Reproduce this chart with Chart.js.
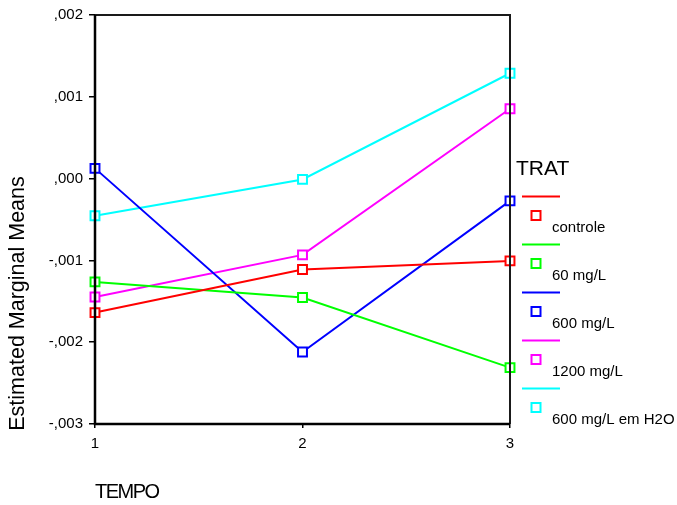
<!DOCTYPE html>
<html>
<head>
<meta charset="utf-8">
<script src="https://cdn.jsdelivr.net/npm/chart.js@4/dist/chart.umd.min.js"></script>
<style>
  html, body { margin: 0; padding: 0; background: #ffffff; }
  #wrap { width: 677px; height: 505px; }
</style>
</head>
<body>
<div id="wrap"><canvas id="chart" width="677" height="505"></canvas></div>
<script>
// Estimated marginal means by TEMPO for each TRAT group
const tempo = ['1', '2', '3'];
const treatments = ['controle', '60 mg/L', '600 mg/L', '1200 mg/L', '600 mg/L em H2O'];

const controle = [-0.001638, -0.001111, -0.001006];
const mg60 = [-0.001263, -0.001454, -0.002311];
const mg600 = [0.000125, -0.002120, -0.000272];
const mg1200 = [-0.001447, -0.000933, 0.000854];
const mg600H2O = [-0.000455, -0.000010, 0.001288];

const yTickValues = [0.002, 0.001, 0, -0.001, -0.002, -0.003];
const yTickLabels = [',002', ',001', ',000', '-,001', '-,002', '-,003'];

const seriesValues = [controle, mg60, mg600, mg1200, mg600H2O];
const seriesColors = ['#ff0000', '#00ff00', '#0000ff', '#ff00ff', '#00ffff'];

const FONT = "'Liberation Sans', Arial, sans-serif";

const datasets = treatments.map((name, i) => ({
  label: name,
  data: seriesValues[i],
  borderColor: seriesColors[i],
  borderWidth: 2,
  pointStyle: 'rect',
  pointRadius: 6.3,
  pointBorderWidth: 2,
  pointBorderColor: seriesColors[i],
  pointBackgroundColor: '#ffffff',
  tension: 0,
  clip: false
}));

// Frame round the plot, axis titles and the TRAT key
const decorations = {
  id: 'decorations',
  afterDatasetsDraw(chart) {
    const ctx = chart.ctx;
    const a = chart.chartArea;
    ctx.save();
    ctx.strokeStyle = '#1a1a1a';
    ctx.lineWidth = 2;
    ctx.beginPath();
    ctx.moveTo(a.left, a.top);
    ctx.lineTo(a.right, a.top);
    ctx.lineTo(a.right, a.bottom);
    ctx.stroke();
    ctx.strokeStyle = '#000000';
    ctx.lineWidth = 2.5;
    ctx.beginPath();
    ctx.moveTo(a.left, a.top);
    ctx.lineTo(a.left, a.bottom);
    ctx.lineTo(a.right, a.bottom);
    ctx.stroke();
    ctx.restore();
  },
  afterDraw(chart) {
    const ctx = chart.ctx;
    const a = chart.chartArea;
    ctx.save();
    ctx.fillStyle = '#000000';

    // y axis title
    ctx.save();
    ctx.translate(18.5, 303.5);
    ctx.rotate(-Math.PI / 2);
    ctx.font = '21.5px ' + FONT;
    ctx.textAlign = 'center';
    ctx.textBaseline = 'middle';
    ctx.fillText('Estimated Marginal Means', 0, 0);
    ctx.restore();

    // x axis title
    ctx.font = '20px ' + FONT;
    ctx.textAlign = 'left';
    ctx.textBaseline = 'middle';
    if ('letterSpacing' in ctx) ctx.letterSpacing = '-1.5px';
    ctx.fillText('TEMPO', a.left, 492);
    if ('letterSpacing' in ctx) ctx.letterSpacing = '0px';

    // key
    const kx = a.right + 6;
    ctx.font = '21px ' + FONT;
    ctx.fillText('TRAT', kx, 169);
    ctx.font = '15px ' + FONT;
    ctx.textBaseline = 'alphabetic';
    treatments.forEach((name, i) => {
      const y0 = 196.5 + i * 48;
      ctx.strokeStyle = seriesColors[i];
      ctx.lineWidth = 2;
      ctx.beginPath();
      ctx.moveTo(kx + 6, y0);
      ctx.lineTo(kx + 44, y0);
      ctx.stroke();
      const my = y0 + 19;
      ctx.strokeRect(kx + 15.5, my - 4.5, 9, 9);
      ctx.fillStyle = '#000000';
      ctx.fillText(name, kx + 36, y0 + 35.5);
    });
    ctx.restore();
  }
};

new Chart(document.getElementById('chart'), {
  type: 'line',
  data: { labels: tempo, datasets },
  options: {
    responsive: false,
    animation: false,
    events: [],
    layout: { padding: { top: 15, right: 167, left: 0, bottom: 0 } },
    plugins: {
      legend: { display: false },
      tooltip: { enabled: false }
    },
    scales: {
      x: {
        offset: false,
        border: { display: false },
        grid: {
          drawOnChartArea: false,
          drawTicks: true,
          tickLength: 4,
          color: '#000000',
          lineWidth: 1.5
        },
        ticks: {
          color: '#000000',
          font: { family: FONT, size: 15 },
          padding: 7,
          maxRotation: 0
        },
        afterFit(scale) { scale.height = 81; }
      },
      y: {
        min: -0.003,
        max: 0.002,
        border: { display: false },
        grid: {
          drawOnChartArea: false,
          drawTicks: true,
          tickLength: 6,
          color: '#000000',
          lineWidth: 1.5
        },
        afterBuildTicks(scale) {
          scale.ticks = yTickValues.map(v => ({ value: v }));
        },
        ticks: {
          color: '#000000',
          font: { family: FONT, size: 15 },
          padding: 6,
          callback(value) {
            const i = yTickValues.findIndex(t => Math.abs(t - value) < 1e-9);
            return i >= 0 ? yTickLabels[i] : '';
          }
        },
        afterFit(scale) { scale.width = 95; }
      }
    }
  },
  plugins: [decorations]
});
</script>
</body>
</html>
